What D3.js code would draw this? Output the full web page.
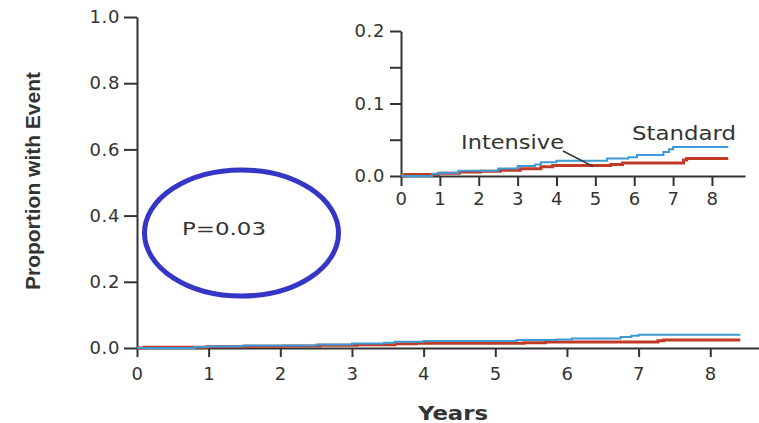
<!DOCTYPE html>
<html>
<head>
<meta charset="utf-8">
<script src="https://cdn.jsdelivr.net/npm/d3@7"></script>
<style>
  html, body { margin: 0; padding: 0; background: #fff; }
  svg { display: block; }
  text { font-family: "DejaVu Sans", sans-serif; fill: #333; }
</style>
</head>
<body>
<svg id="chart" width="759" height="423"></svg>
<script>
// ---- data ----
const standardTimes  = [0, 0.8, 1.0, 1.48, 2.5, 3.0, 3.45, 3.6, 4.0, 5.3, 5.85, 6.07, 6.75, 6.9, 7.0, 8.42];
const standardValues = [0, 0.003, 0.0046, 0.0073, 0.0105, 0.0137, 0.016, 0.019, 0.021, 0.024, 0.026, 0.029, 0.033, 0.037, 0.040, 0.040];
const intensiveTimes  = [0, 0.1, 0.97, 1.5, 2.05, 2.55, 3.07, 3.6, 3.9, 5.4, 5.7, 7.27, 7.35, 8.42];
const intensiveValues = [0, 0.002, 0.0037, 0.0055, 0.0064, 0.008, 0.010, 0.0128, 0.0146, 0.016, 0.018, 0.022, 0.024, 0.024];
const xTicks = [0, 1, 2, 3, 4, 5, 6, 7, 8];
const mainYTicks = [0, 0.2, 0.4, 0.6, 0.8, 1.0];
const insetYTicks = [0, 0.05, 0.1, 0.15, 0.2];
const insetYLabeled = [0, 0.1, 0.2];
const seriesNames = ["Standard", "Intensive"];
const pValueText = "P=0.03";
const xTitle = "Years";
const yTitle = "Proportion with Event";

const standard = standardTimes.map((t, i) => ({ t, v: standardValues[i] }));
const intensive = intensiveTimes.map((t, i) => ({ t, v: intensiveValues[i] }));

const BLUE = "#3d9ad6";
const RED = "#c13a26";
const AX = "#333";

const svg = d3.select("#chart");

function styleAxis(g) {
  g.selectAll(".domain").attr("stroke", AX).attr("stroke-width", 2);
  g.selectAll(".tick line").attr("stroke", AX).attr("stroke-width", 2);
  g.selectAll(".tick text").attr("fill", "#3a3a3a").style("letter-spacing", "0.6px");
}

// ---- main chart ----
const x = d3.scaleLinear().domain([0, 8.68]).range([137, 759]);
const y = d3.scaleLinear().domain([0, 1]).range([348, 17]);

const gx = svg.append("g").attr("transform", `translate(0,${y(0)})`)
  .call(d3.axisBottom(x).tickValues(xTicks).tickFormat(d3.format("d")).tickSizeInner(9).tickSizeOuter(0).tickPadding(10))
  .attr("font-size", 18).attr("font-family", "DejaVu Sans");
styleAxis(gx);

const gy = svg.append("g").attr("transform", `translate(${x(0)},0)`)
  .call(d3.axisLeft(y).tickValues(mainYTicks).tickFormat(d3.format(".1f")).tickSizeInner(13).tickSizeOuter(0).tickPadding(4))
  .attr("font-size", 18).attr("font-family", "DejaVu Sans");
styleAxis(gy);

const line = d3.line().curve(d3.curveStepAfter).x(d => x(d.t)).y(d => y(d.v));
svg.append("path").datum(intensive).attr("d", line).attr("fill", "none").attr("stroke", RED).attr("stroke-width", 3);
svg.append("path").datum(standard).attr("d", line).attr("fill", "none").attr("stroke", BLUE).attr("stroke-width", 2);

svg.append("text").attr("x", 453).attr("y", 420).attr("text-anchor", "middle")
  .attr("font-size", 19).attr("font-weight", "bold").attr("fill", "#222")
  .attr("textLength", 70).attr("lengthAdjust", "spacingAndGlyphs")
  .text(xTitle);

svg.append("text").attr("transform", "translate(40,181) rotate(-90)").attr("text-anchor", "middle")
  .style("font-family", "'Liberation Sans Narrow', 'Liberation Sans', sans-serif")
  .attr("font-size", 21).attr("font-weight", "bold").attr("fill", "#222")
  .attr("textLength", 218).attr("lengthAdjust", "spacingAndGlyphs")
  .text(yTitle);

// ---- P value annotation ----
svg.append("ellipse").attr("cx", 241.5).attr("cy", 233).attr("rx", 97).attr("ry", 63)
  .attr("fill", "none").attr("stroke", "#3535c6").attr("stroke-width", 5);
svg.append("text").attr("x", 182).attr("y", 235).attr("font-size", 18)
  .attr("textLength", 84).attr("lengthAdjust", "spacingAndGlyphs")
  .text(pValueText);

// ---- inset ----
const xi = d3.scaleLinear().domain([0, 8.85]).range([401, 745]);
const yi = d3.scaleLinear().domain([0, 0.2]).range([176, 31]);

const gxi = svg.append("g").attr("transform", `translate(0,${yi(0)})`)
  .call(d3.axisBottom(xi).tickValues(xTicks).tickFormat(d3.format("d")).tickSizeInner(10).tickSizeOuter(0).tickPadding(6))
  .attr("font-size", 18).attr("font-family", "DejaVu Sans");
styleAxis(gxi);

const gyi = svg.append("g").attr("transform", `translate(${xi(0)},0)`)
  .call(d3.axisLeft(yi).tickValues(insetYTicks)
    .tickFormat(d => insetYLabeled.some(v => Math.abs(v - d) < 1e-9) ? d3.format(".1f")(d) : "")
    .tickSizeInner(11).tickSizeOuter(0).tickPadding(5))
  .attr("font-size", 18).attr("font-family", "DejaVu Sans");
styleAxis(gyi);

const linei = d3.line().curve(d3.curveStepAfter).x(d => xi(d.t)).y(d => yi(d.v));
svg.append("path").datum(intensive).attr("d", linei).attr("fill", "none").attr("stroke", RED).attr("stroke-width", 3);
svg.append("path").datum(standard).attr("d", linei).attr("fill", "none").attr("stroke", BLUE).attr("stroke-width", 2);

svg.append("text").attr("x", 632).attr("y", 140).attr("font-size", 19)
  .attr("textLength", 104).attr("lengthAdjust", "spacingAndGlyphs").text(seriesNames[0]);
svg.append("text").attr("x", 461).attr("y", 149).attr("font-size", 19)
  .attr("textLength", 103).attr("lengthAdjust", "spacingAndGlyphs").text(seriesNames[1]);
svg.append("line").attr("x1", 563).attr("y1", 151).attr("x2", xi(4.95)).attr("y2", yi(0.013))
  .attr("stroke", "#333").attr("stroke-width", 1.5);
</script>
</body>
</html>
